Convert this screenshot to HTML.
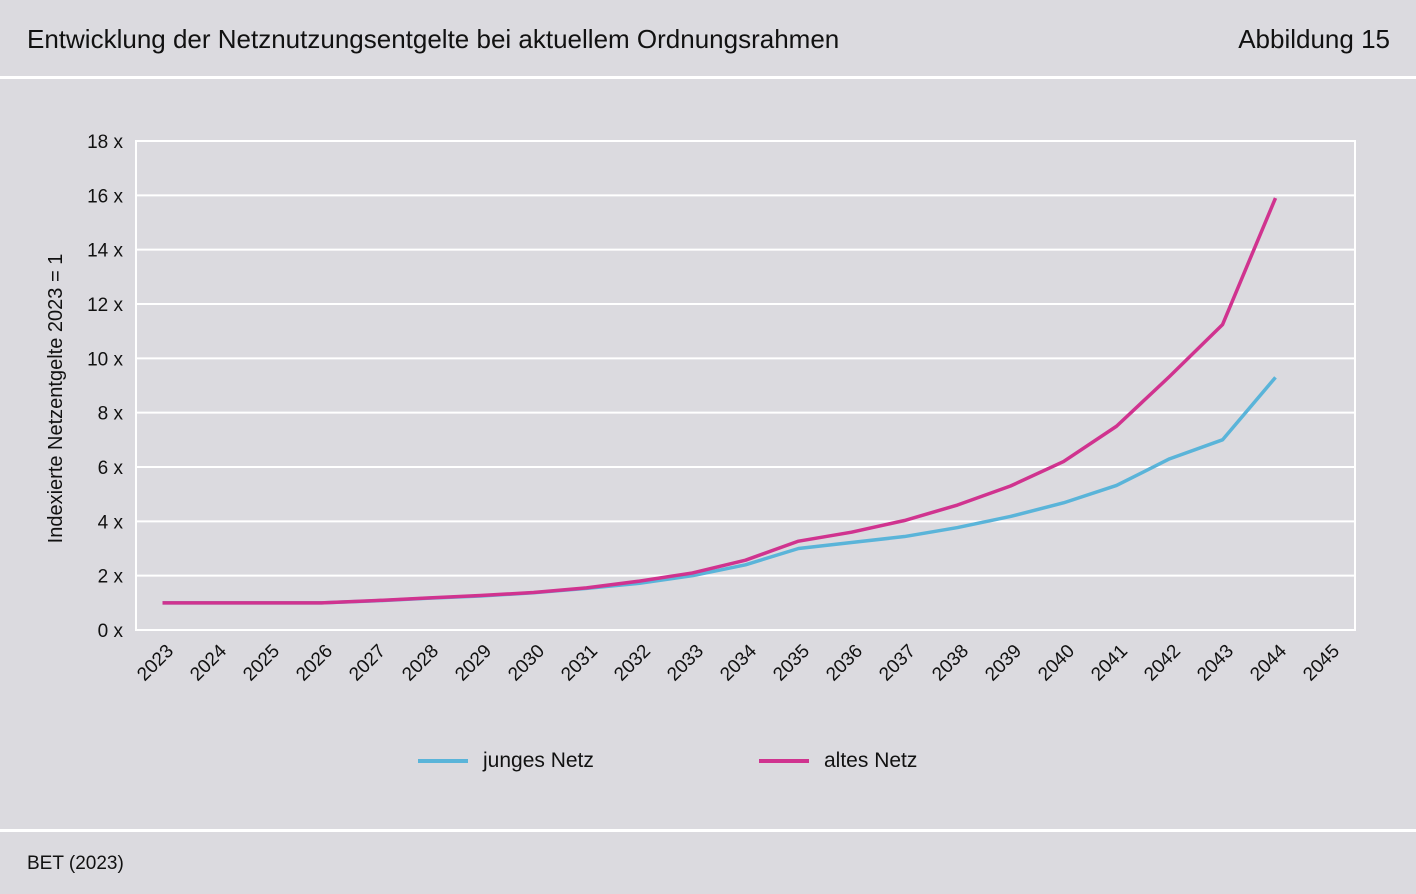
<!DOCTYPE html>
<html><head><meta charset="utf-8"><style>
body{margin:0;width:1416px;height:894px;background:#dbdadf;font-family:"Liberation Sans",sans-serif;overflow:hidden;position:relative}
.t{position:absolute;color:#111}
</style></head><body>
<div class="t" style="left:27px;top:24px;font-size:26px">Entwicklung der Netznutzungsentgelte bei aktuellem Ordnungsrahmen</div>
<div class="t" style="right:26px;top:24px;font-size:26px">Abbildung 15</div>
<div style="position:absolute;left:0;top:76px;width:1416px;height:3px;background:#fff"></div>
<div style="position:absolute;left:0;top:829px;width:1416px;height:3px;background:#fff"></div>
<div class="t" style="left:27px;top:853px;font-size:19px">BET (2023)</div>
<svg id="c" width="1416" height="894" style="position:absolute;left:0;top:0"></svg>
<script>
const years=["2023","2024","2025","2026","2027","2028","2029","2030","2031","2032","2033","2034","2035","2036","2037","2038","2039","2040","2041","2042","2043","2044","2045"];
const jungesNetz=[1,1,1,1,1.07,1.17,1.25,1.37,1.53,1.72,2.0,2.4,3.0,3.22,3.44,3.77,4.18,4.68,5.32,6.3,7.0,9.3];
const altesNetz=[1,1,1,1,1.08,1.18,1.27,1.38,1.55,1.8,2.1,2.57,3.27,3.6,4.03,4.6,5.3,6.2,7.5,9.33,11.24,15.9];
const yTicks=[0,2,4,6,8,10,12,14,16,18];
const L=136,R=1355,T=141,B=630;
const bw=(R-L)/years.length;
const x=i=>L+bw*(i+0.5);
const y=v=>B-(v/18)*(B-T);
const s=document.getElementById('c');const NS='http://www.w3.org/2000/svg';
function mk(t,a){const e=document.createElementNS(NS,t);for(const k in a)e.setAttribute(k,a[k]);s.appendChild(e);return e;}
yTicks.forEach(v=>{
 const g=mk('line',{x1:L,x2:R,y1:y(v),y2:y(v),stroke:'#fff','stroke-width':2});
 
 
 const t=mk('text',{x:123,y:y(v)+7,'text-anchor':'end','font-size':19,fill:'#111'});t.textContent=v+' x';
 
 
});
const fr=mk('rect',{x:L,y:T,width:R-L,height:B-T,fill:'none',stroke:'#fff','stroke-width':2});


years.forEach((yr,i)=>{
 const t=mk('text',{x:x(i)+12,y:652,'text-anchor':'end','font-size':19,fill:'#111',transform:`rotate(-45 ${x(i)+12} 652)`});t.textContent=yr;
 
 
});
const yt=mk('text',{x:0,y:0,'text-anchor':'middle','font-size':20,fill:'#111',transform:`translate(62 ${(T+B)/2+13}) rotate(-90)`});yt.textContent='Indexierte Netzentgelte 2023 = 1';


function line(d,c,n){const p=mk('polyline',{points:d.map((v,i)=>x(i)+','+y(v)).join(' '),fill:'none',stroke:c,'stroke-width':3.5,'stroke-linejoin':'round'});
 
 }
line(jungesNetz,'#5ab4d9','series-junges-netz');
line(altesNetz,'#d0338f','series-altes-netz');
function leg(x0,c,txt,n){const l=mk('line',{x1:x0,x2:x0+50,y1:761,y2:761,stroke:c,'stroke-width':4});
 
 
 const t=mk('text',{x:x0+65,y:767,'font-size':21,fill:'#111'});t.textContent=txt;
 
 }
leg(418,'#5ab4d9','junges Netz','legend-junges-netz');
leg(759,'#d0338f','altes Netz','legend-altes-netz');
</script>
</body></html>
